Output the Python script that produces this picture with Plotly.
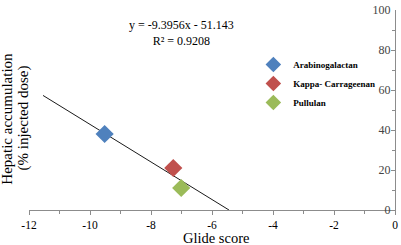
import plotly.graph_objects as go

# Data
names = ["Arabinogalactan", "Kappa- Carrageenan", "Pullulan"]
glide_score = [-9.52, -7.27, -7.01]
hepatic_acc = [38.0, 21.0, 11.0]
colors = ["#4F81BD", "#C0504D", "#9BBB59"]

slope = -9.3956
intercept = -51.143
trend_x = [-11.54, -5.443]
trend_y = [slope * x + intercept for x in trend_x]

x_ticks = [-12, -10, -8, -6, -4, -2, 0]
y_ticks = [0, 20, 40, 60, 80, 100]

W, H = 401, 245
ml, mr, mt, mb = 29, 3, 9, 35

fig = go.Figure()
fig.add_trace(go.Scatter(x=trend_x, y=trend_y, mode="lines",
                         line=dict(color="#1a1a1a", width=1),
                         showlegend=False, hoverinfo="skip"))
for n, gx, hy, c in zip(names, glide_score, hepatic_acc, colors):
    fig.add_trace(go.Scatter(x=[gx], y=[hy], mode="markers", name=n,
                             marker=dict(symbol="diamond", size=14, color=c)))

serif = "Liberation Serif"
fig.update_layout(
    width=W, height=H,
    margin=dict(l=ml, r=mr, t=mt, b=mb),
    paper_bgcolor="white", plot_bgcolor="white",
    font=dict(family=serif, size=12, color="black"),
    showlegend=True,
    legend=dict(x=0.613, y=0.80, xanchor="left", yanchor="top", itemwidth=30,
                font=dict(family=serif, size=9, color="black", weight="bold"),
                bgcolor="rgba(0,0,0,0)", itemsizing="constant", tracegroupgap=2),
    xaxis=dict(range=[-12, 0], tickvals=x_ticks, ticktext=[str(v) for v in x_ticks],
               showgrid=False, zeroline=False, showline=True, linecolor="#8c8c8c",
               linewidth=1, ticks="outside", ticklen=4, tickcolor="#8c8c8c",
               ticklabeloverflow="allow",
               minor=dict(dtick=1, ticks="outside", ticklen=3, tickcolor="#8c8c8c"),
               tickfont=dict(family=serif, size=11.5)),
    yaxis=dict(range=[0, 100], tickvals=y_ticks, ticktext=[str(v) for v in y_ticks],
               side="right", ticklabelposition="inside", ticklabeloverflow="allow",
               showgrid=False, zeroline=False, showline=True, linecolor="#8c8c8c",
               linewidth=1, ticks="inside", ticklen=4, tickcolor="#8c8c8c",
               minor=dict(dtick=10, ticks="inside", ticklen=3, tickcolor="#8c8c8c"),
               tickfont=dict(family=serif, size=12)),
)

pw = W - ml - mr
ph = H - mt - mb
def px(xp):
    return (xp - ml) / pw
def py(yp):
    return (H - mb - yp) / ph

fig.add_annotation(text="y = -9.3956x - 51.143<br>R² = 0.9208", xref="paper", yref="paper",
                   x=px(183), y=py(32), xanchor="center", yanchor="middle",
                   showarrow=False, align="center", font=dict(family=serif, size=12))
fig.add_annotation(text="Hepatic accumulation", xref="paper", yref="paper",
                   x=px(7), y=py(118), textangle=-90, showarrow=False,
                   xanchor="center", yanchor="middle", font=dict(family=serif, size=15))
fig.add_annotation(text="(% injected dose)", xref="paper", yref="paper",
                   x=px(23), y=py(118), textangle=-90, showarrow=False,
                   xanchor="center", yanchor="middle", font=dict(family=serif, size=15))
fig.add_annotation(text="Glide score", xref="paper", yref="paper",
                   x=px(218), y=py(238.3), showarrow=False,
                   xanchor="center", yanchor="middle", font=dict(family=serif, size=14.5))

fig.write_html("out.html", config={"displayModeBar": False},
               post_script="document.body.style.margin='0';document.body.style.padding='0';")
